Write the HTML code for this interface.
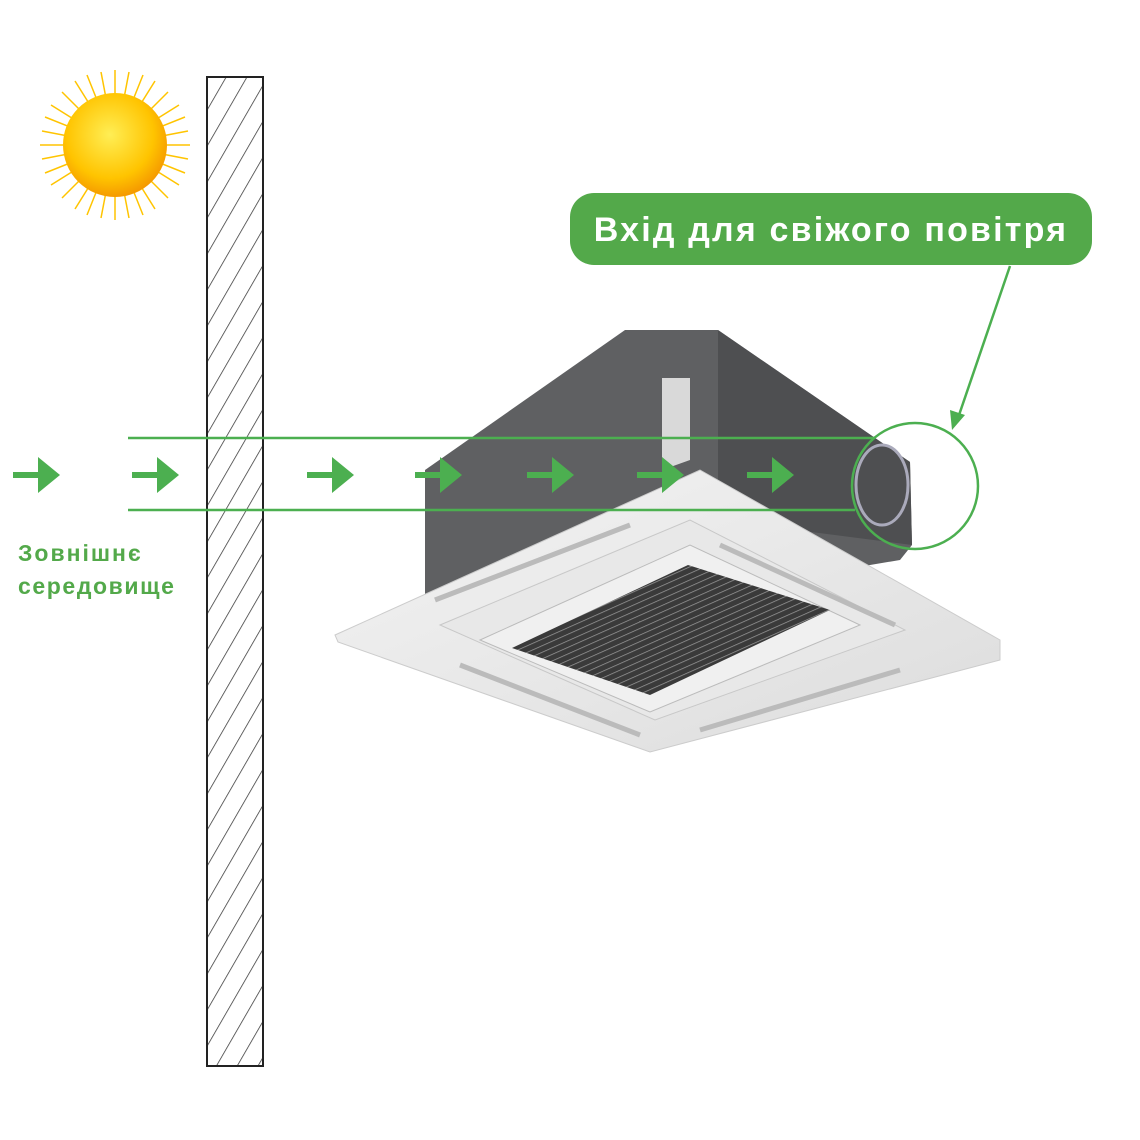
<!DOCTYPE html>
<html><head><meta charset="utf-8"><style>
html,body{margin:0;padding:0;background:#fff;}
svg{display:block;}
text{font-family:"Liberation Sans","DejaVu Sans",sans-serif;font-weight:bold;}
</style></head><body>
<svg width="1140" height="1140" viewBox="0 0 1140 1140" xmlns="http://www.w3.org/2000/svg">
<defs>
<pattern id="hatch" width="18" height="18" patternUnits="userSpaceOnUse" patternTransform="rotate(30)">
<line x1="0" y1="0" x2="0" y2="18" stroke="#333" stroke-width="1.5"/>
</pattern>
<radialGradient id="sun" cx="45%" cy="40%" r="60%">
<stop offset="0" stop-color="#ffee55"/><stop offset="0.7" stop-color="#ffc400"/><stop offset="1" stop-color="#f59a00"/>
</radialGradient>
<linearGradient id="panel" x1="0" y1="0" x2="1" y2="1">
<stop offset="0" stop-color="#f4f4f4"/><stop offset="1" stop-color="#dcdcdc"/>
</linearGradient>
<pattern id="grill" width="6" height="6" patternUnits="userSpaceOnUse" patternTransform="rotate(-24)">
<rect width="6" height="6" fill="#3a3a3a"/><line x1="0" y1="0" x2="6" y2="0" stroke="#999" stroke-width="1.5"/>
</pattern>
<g id="ar"><rect x="0" y="-3" width="30" height="6"/><polygon points="25,-18 47,0 25,18"/></g>
</defs>
<!-- sun -->
<g transform="translate(115,145)">
<g stroke="#ffc400" stroke-width="1.5">
<line x1="-75" y1="0" x2="75" y2="0"/><line x1="0" y1="-75" x2="0" y2="75"/>
<line x1="-53" y1="-53" x2="53" y2="53"/><line x1="-53" y1="53" x2="53" y2="-53"/>
<line x1="-70" y1="-28" x2="70" y2="28"/><line x1="-70" y1="28" x2="70" y2="-28"/>
<line x1="-28" y1="-70" x2="28" y2="70"/><line x1="-28" y1="70" x2="28" y2="-70"/>
<line x1="-64" y1="-40" x2="64" y2="40"/><line x1="-64" y1="40" x2="64" y2="-40"/>
<line x1="-40" y1="-64" x2="40" y2="64"/><line x1="-40" y1="64" x2="40" y2="-64"/>
<line x1="-73" y1="-14" x2="73" y2="14"/><line x1="-73" y1="14" x2="73" y2="-14"/>
<line x1="-14" y1="-73" x2="14" y2="73"/><line x1="-14" y1="73" x2="14" y2="-73"/>
</g>
<circle r="52" fill="url(#sun)"/>
</g>
<!-- wall -->
<rect x="207" y="77" width="56" height="989" fill="url(#hatch)" stroke="#222" stroke-width="2"/>
<!-- unit body -->
<polygon points="625,330 718,330 910,462 912,545 900,560 425,640 425,470" fill="#5f6062"/>
<polygon points="718,330 910,462 912,545 718,520" fill="#4e4f51"/>
<polygon points="662,378 690,378 690,460 662,470" fill="#d9d9d9"/>
<ellipse cx="882" cy="485" rx="26" ry="40" fill="none" stroke="#aab" stroke-width="3"/>
<!-- panel -->
<polygon points="335,635 700,470 1000,640 1000,660 650,752 338,642" fill="url(#panel)" stroke="#ccc"/>
<polygon points="440,625 690,520 905,630 655,720" fill="#e8e8e8" stroke="#c8c8c8"/>
<polygon points="480,640 690,545 860,625 650,712" fill="#f0f0f0" stroke="#bbb"/>
<polygon points="512,648 688,565 830,610 650,695" fill="url(#grill)"/>
<line x1="435" y1="600" x2="630" y2="525" stroke="#bbb" stroke-width="5"/>
<line x1="720" y1="545" x2="895" y2="625" stroke="#bbb" stroke-width="5"/>
<line x1="460" y1="665" x2="640" y2="735" stroke="#bbb" stroke-width="5"/>
<line x1="700" y1="730" x2="900" y2="670" stroke="#bbb" stroke-width="5"/>
<!-- air lines -->
<g stroke="#4caf50" stroke-width="2.5" fill="none">
<line x1="128" y1="438" x2="875" y2="438"/>
<line x1="128" y1="510" x2="855" y2="510"/>
<ellipse cx="915" cy="486" rx="63" ry="63"/>
<line x1="1010" y1="266" x2="958" y2="418"/>
</g>
<polygon points="952,430 950,410 965,415" fill="#4caf50"/>
<!-- arrows -->
<g fill="#4caf50">
<use href="#ar" transform="translate(13,475)"/>
<use href="#ar" transform="translate(132,475)"/>
<use href="#ar" transform="translate(307,475)"/>
<use href="#ar" transform="translate(415,475)"/>
<use href="#ar" transform="translate(527,475)"/>
<use href="#ar" transform="translate(637,475)"/>
<use href="#ar" transform="translate(747,475)"/>
</g>
<!-- label -->
<rect x="570" y="193" width="522" height="72" rx="24" fill="#53a94a"/>
<text x="831" y="241" fill="#fff" font-size="34" text-anchor="middle" letter-spacing="2.2">Вхід для свіжого повітря</text>
<text x="18" y="561" fill="#53a94a" font-size="23" letter-spacing="2">Зовнішнє</text>
<text x="18" y="594" fill="#53a94a" font-size="23" letter-spacing="1.6">середовище</text>
</svg>
</body></html>
